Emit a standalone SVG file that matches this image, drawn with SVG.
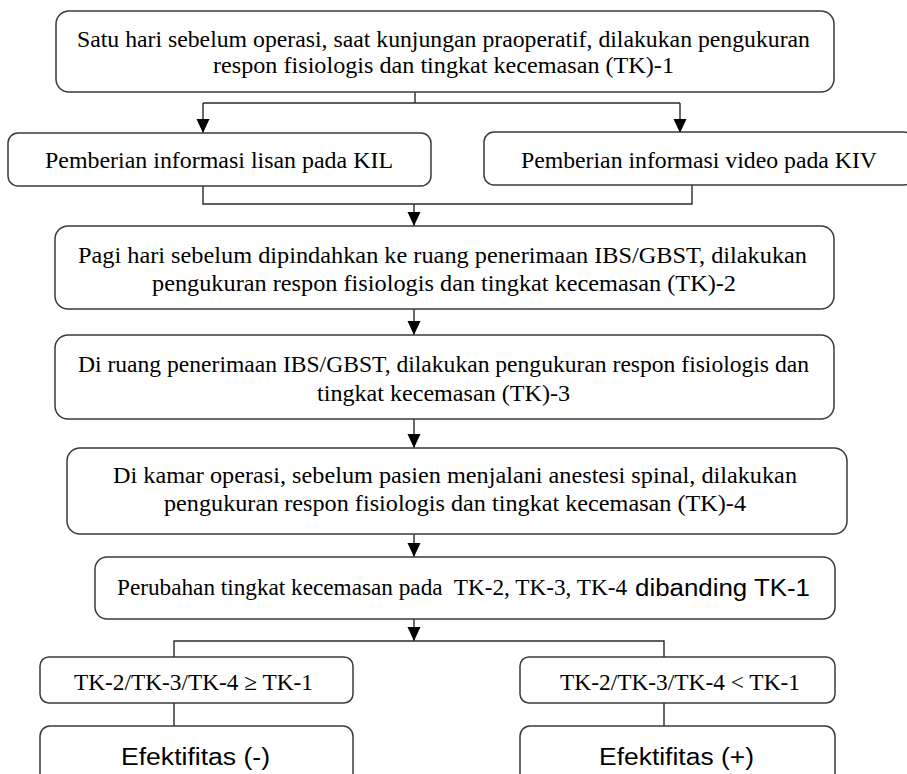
<svg xmlns="http://www.w3.org/2000/svg" width="907" height="774" viewBox="0 0 907 774">
<defs>
<style>
.box{fill:#fff;stroke:#3a3a3a;stroke-width:1.5}
.ln{fill:none;stroke:#2a2a2a;stroke-width:1.4}
.t{font-family:"Liberation Serif","Times New Roman",serif;font-size:23px;fill:#000}
.s{font-family:"Liberation Sans",Arial,sans-serif;font-size:23px;fill:#000}
</style>
<marker id="ah" markerUnits="userSpaceOnUse" markerWidth="13" markerHeight="14" refX="14" refY="6.5" orient="auto">
<path d="M0,0 L14,6.5 L0,13 z" fill="#000"/>
</marker>
</defs>
<rect width="907" height="774" fill="#fff"/>
<g id="connectors">
<path class="ln" d="M415,92 V103 M203,103 H680"/>
<path class="ln" d="M203,103 V133" marker-end="url(#ah)"/>
<path class="ln" d="M680,103 V133" marker-end="url(#ah)"/>
<path class="ln" d="M203,186 V204 H692 V185"/>
<path class="ln" d="M414,204 V226" marker-end="url(#ah)"/>
<path class="ln" d="M414,309 V335" marker-end="url(#ah)"/>
<path class="ln" d="M414,419 V448" marker-end="url(#ah)"/>
<path class="ln" d="M414,534 V557" marker-end="url(#ah)"/>
<path class="ln" d="M414,619 V641" marker-end="url(#ah)"/>
<path class="ln" d="M174,657 V641 H664 V657"/>
<path class="ln" d="M174,703 V726 M664,703 V726"/>
</g>
<g id="n1">
<rect class="box" x="56" y="11" width="778" height="81" rx="13"/>
<text class="t" x="77" y="47" textLength="733" lengthAdjust="spacingAndGlyphs">Satu hari sebelum operasi, saat kunjungan praoperatif, dilakukan pengukuran</text>
<text class="t" x="213" y="73" textLength="461" lengthAdjust="spacingAndGlyphs">respon fisiologis dan tingkat kecemasan (TK)-1</text>
</g>
<g id="n2">
<rect class="box" x="8" y="133" width="423" height="53" rx="10"/>
<text class="t" x="45" y="168" textLength="348" lengthAdjust="spacingAndGlyphs">Pemberian informasi lisan pada KIL</text>
</g>
<g id="n3">
<rect class="box" x="484" y="132" width="430" height="53" rx="10"/>
<text class="t" x="521" y="168" textLength="356" lengthAdjust="spacingAndGlyphs">Pemberian informasi video pada KIV</text>
</g>
<g id="n4">
<rect class="box" x="55" y="226" width="779" height="83" rx="13"/>
<text class="t" x="78" y="263" textLength="729" lengthAdjust="spacingAndGlyphs">Pagi hari sebelum dipindahkan ke ruang penerimaan IBS/GBST, dilakukan</text>
<text class="t" x="152" y="291" textLength="584" lengthAdjust="spacingAndGlyphs">pengukuran respon fisiologis dan tingkat kecemasan (TK)-2</text>
</g>
<g id="n5">
<rect class="box" x="55" y="335" width="779" height="84" rx="13"/>
<text class="t" x="78" y="372" textLength="731" lengthAdjust="spacingAndGlyphs">Di ruang penerimaan IBS/GBST, dilakukan pengukuran respon fisiologis dan</text>
<text class="t" x="317" y="401" textLength="253" lengthAdjust="spacingAndGlyphs">tingkat kecemasan (TK)-3</text>
</g>
<g id="n6">
<rect class="box" x="67" y="448" width="780" height="86" rx="13"/>
<text class="t" x="113" y="483" textLength="684" lengthAdjust="spacingAndGlyphs">Di kamar operasi, sebelum pasien menjalani anestesi spinal, dilakukan</text>
<text class="t" x="164" y="511" textLength="582" lengthAdjust="spacingAndGlyphs">pengukuran respon fisiologis dan tingkat kecemasan (TK)-4</text>
</g>
<g id="n7">
<rect class="box" x="95" y="557" width="740" height="62" rx="12"/>
<text class="t" x="117" y="595" font-size="21" textLength="510" lengthAdjust="spacingAndGlyphs" xml:space="preserve">Perubahan tingkat kecemasan pada  TK-2, TK-3, TK-4</text>
<text class="s" x="635" y="596" font-size="24" textLength="175" lengthAdjust="spacingAndGlyphs">dibanding TK-1</text>
</g>
<g id="n8">
<rect class="box" x="40" y="657" width="313" height="46" rx="9"/>
<text class="t" x="74" y="690" font-size="21" textLength="239" lengthAdjust="spacingAndGlyphs">TK-2/TK-3/TK-4 ≥ TK-1</text>
</g>
<g id="n9">
<rect class="box" x="520" y="657" width="315" height="46" rx="9"/>
<text class="t" x="560" y="690" font-size="21" textLength="240" lengthAdjust="spacingAndGlyphs">TK-2/TK-3/TK-4 &lt; TK-1</text>
</g>
<g id="n10">
<rect class="box" x="40" y="726" width="313" height="70" rx="10"/>
<text class="s" x="121" y="765" font-size="23" textLength="149" lengthAdjust="spacingAndGlyphs">Efektifitas (-)</text>
</g>
<g id="n11">
<rect class="box" x="520" y="726" width="315" height="70" rx="10"/>
<text class="s" x="599" y="765" font-size="23" textLength="155" lengthAdjust="spacingAndGlyphs">Efektifitas (+)</text>
</g>
</svg>
